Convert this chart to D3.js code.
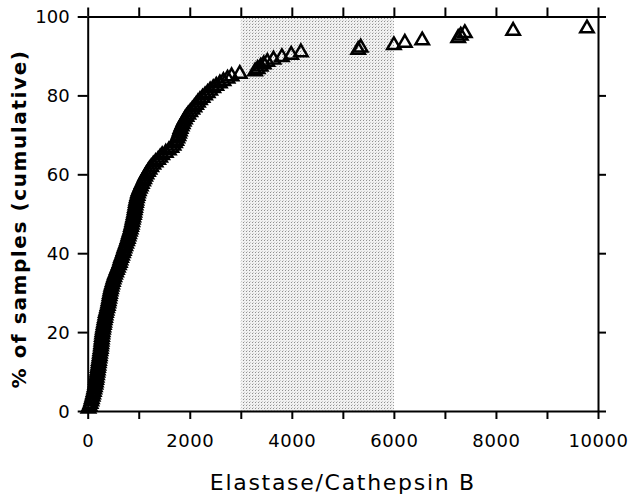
<!DOCTYPE html>
<html>
<head>
<meta charset="utf-8">
<script src="https://cdn.jsdelivr.net/npm/d3@7"></script>
<style>
    body { margin: 0; background: #fff; }
    svg { display: block; }
    .axis path, .axis line { stroke: #000; stroke-width: 2; }
    .axis text { font-family: 'DejaVu Sans', sans-serif; fill: #000; }
</style>
</head>
<body>
<div id="chart"></div>
<script>
// Sample values (Elastase/Cathepsin B ratio), sorted
const samples = [
    15, 35, 55, 70, 80, 95, 105, 118, 128, 138,
    150, 158, 165, 172, 180, 187, 195, 200, 208, 215,
    220, 228, 235, 240, 247, 255, 260, 266, 270, 275,
    280, 285, 290, 298, 305, 315, 322, 330, 340, 348,
    356, 368, 380, 392, 402, 410, 420, 428, 436, 445,
    455, 465, 478, 492, 505, 520, 535, 555, 572, 590,
    610, 628, 640, 655, 672, 690, 705, 718, 735, 752,
    770, 785, 798, 810, 825, 840, 850, 862, 872, 882,
    892, 904, 912, 920, 928, 936, 945, 952, 962, 975,
    985, 1000, 1020, 1040, 1060, 1085, 1105, 1125, 1150, 1180,
    1210, 1245, 1285, 1330, 1380, 1420, 1460, 1530, 1590, 1640,
    1680, 1710, 1735, 1755, 1775, 1790, 1805, 1820, 1840, 1860,
    1880, 1905, 1935, 1970, 2010, 2050, 2090, 2125, 2160, 2200,
    2250, 2300, 2350, 2400, 2460, 2520, 2590, 2660, 2740, 2820,
    2980,
    3280, 3330, 3390, 3450, 3520, 3641, 3805, 3988, 4178,
    5300, 5350, 6000, 6215, 6555, 7260, 7310, 7390, 8337, 9784
];
// total number of samples (a few lie beyond the x range)
const totalSamples = 165;

// shaded band on the x axis
const bandRange = [3000, 6000];

const xTicks = d3.range(0, 10001, 1000);
const xLabels = [0, 2000, 4000, 6000, 8000, 10000];
const yTicks = [0, 20, 40, 60, 80, 100];

function createChart(containerId) {
    const width = 629, height = 495;
    const margin = { top: 16.5, right: 31, bottom: 84, left: 87.7 };

    const svg = d3.select(`#${containerId}`)
        .append('svg')
        .attr('width', width)
        .attr('height', height);

    const x = d3.scaleLinear()
        .domain([0, 10000])
        .range([margin.left, width - margin.right]);

    const y = d3.scaleLinear()
        .domain([0, 100])
        .range([height - margin.bottom, margin.top]);

    // stipple pattern for the band
    const defs = svg.append('defs');
    const pat = defs.append('pattern')
        .attr('id', 'stipple')
        .attr('patternUnits', 'userSpaceOnUse')
        .attr('width', 3)
        .attr('height', 3);
    pat.append('rect').attr('width', 3).attr('height', 3).attr('fill', '#f1f1f1');
    pat.append('rect').attr('width', 1).attr('height', 1).attr('fill', '#909090');
    pat.append('rect').attr('x', 1).attr('y', 2).attr('width', 1).attr('height', 1).attr('fill', '#cccccc');

    svg.append('rect')
        .attr('x', x(bandRange[0]))
        .attr('y', y(100))
        .attr('width', x(bandRange[1]) - x(bandRange[0]))
        .attr('height', y(0) - y(100))
        .attr('fill', 'url(#stipple)');

    // cumulative percentages
    const points = samples.map((v, i) => ({ value: v, pct: (i + 1) / totalSamples * 100 }));

    const tri = d3.symbol().type(d3.symbolTriangle).size(78);

    svg.append('g')
        .selectAll('path')
        .data(points)
        .enter()
        .append('path')
        .attr('transform', d => `translate(${x(d.value)},${y(d.pct)})`)
        .attr('d', tri)
        .attr('fill', 'none')
        .attr('stroke', '#000')
        .attr('stroke-width', 2.5);

    // axes
    svg.append('g')
        .attr('class', 'axis')
        .attr('transform', `translate(0,${y(0)})`)
        .call(d3.axisBottom(x)
            .tickValues(xTicks)
            .tickSize(8)
            .tickSizeOuter(0)
            .tickPadding(15)
            .tickFormat(d => xLabels.includes(d) ? d : ''))
        .selectAll('text')
        .style('font-size', '18px')
        .style('letter-spacing', '0.6px');

    svg.append('g')
        .attr('class', 'axis')
        .attr('transform', `translate(0,${y(100)})`)
        .call(d3.axisTop(x)
            .tickValues(xTicks)
            .tickSize(9)
            .tickSizeOuter(0)
            .tickFormat(''));

    svg.append('g')
        .attr('class', 'axis')
        .attr('transform', `translate(${x(0)},0)`)
        .call(d3.axisLeft(y)
            .tickValues(yTicks)
            .tickSize(10)
            .tickSizeOuter(0)
            .tickPadding(8))
        .selectAll('text')
        .style('font-size', '18px')
        .attr('dy', '0.34em');

    svg.append('g')
        .attr('class', 'axis')
        .attr('transform', `translate(${x(10000)},0)`)
        .call(d3.axisRight(y)
            .tickValues(yTicks)
            .tickSize(8)
            .tickSizeOuter(0)
            .tickFormat(''));

    // axis titles
    svg.append('text')
        .attr('x', (x(0) + x(10000)) / 2)
        .attr('y', 490)
        .style('text-anchor', 'middle')
        .style('font-family', "'DejaVu Sans', sans-serif")
        .style('font-size', '22px')
        .style('letter-spacing', '1.7px')
        .text('Elastase/Cathepsin B');

    svg.append('text')
        .attr('transform', 'translate(26,219) rotate(-90)')
        .style('text-anchor', 'middle')
        .style('font-family', "'DejaVu Sans', sans-serif")
        .style('font-weight', 'bold')
        .style('font-size', '20px')
        .style('letter-spacing', '1.6px')
        .text('% of samples (cumulative)');
}

createChart('chart');
</script>
</body>
</html>
